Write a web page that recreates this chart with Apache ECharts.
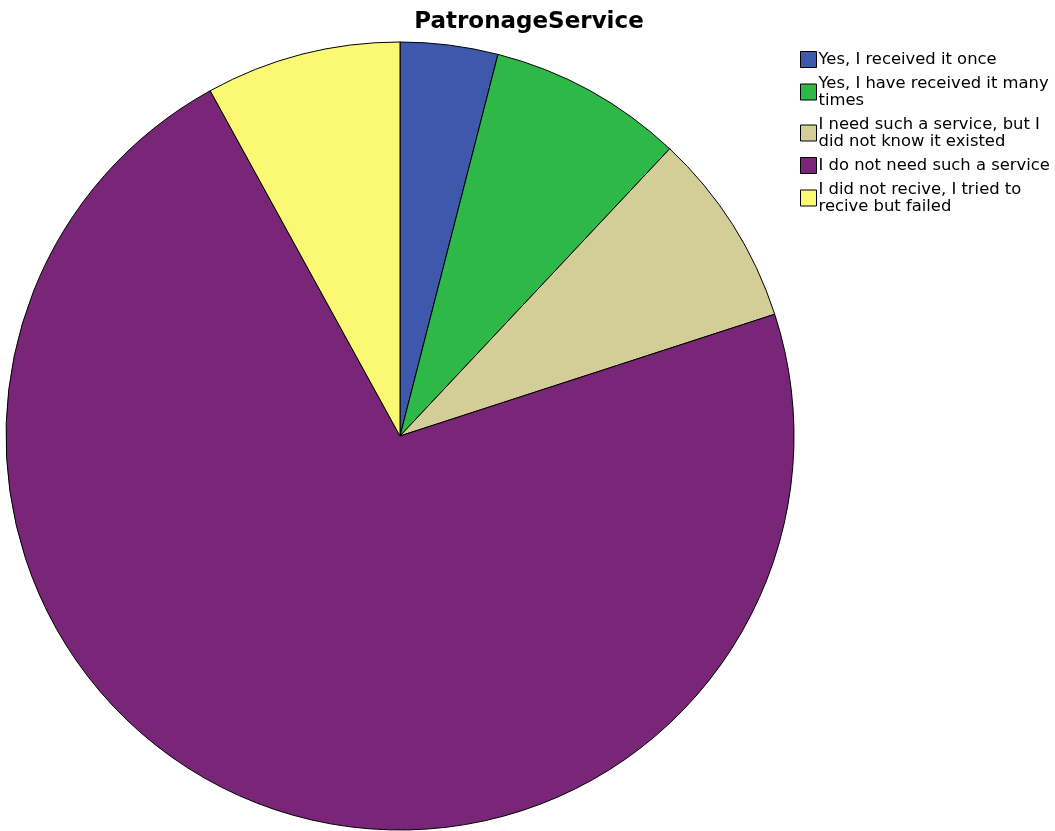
<!DOCTYPE html>
<html>
<head>
<meta charset="utf-8">
<script src="https://cdn.jsdelivr.net/npm/echarts@6/dist/echarts.min.js"></script>
<style>html,body{margin:0;padding:0;background:#fff}#c{width:1055px;height:831px}</style>
</head>
<body>
<div id="c"></div>
<script>
const categories = [
  "Yes, I received it once",
  "Yes, I have received it many times",
  "I need such a service, but I did not know it existed",
  "I do not need such a service",
  "I did not recive, I tried to recive but failed"
];
const legendLabels = [
  "Yes, I received it once",
  "Yes, I have received it many\ntimes",
  "I need such a service, but I\ndid not know it existed",
  "I do not need such a service",
  "I did not recive, I tried to\nrecive but failed"
];
const counts = [1, 2, 2, 18, 2];
const colors = ["#3E58AC", "#2EB848", "#D3CE97", "#7A2678", "#FBF873"];

const chart = echarts.init(document.getElementById('c'), null, {renderer: 'canvas'});
chart.setOption({
  animation: false,
  backgroundColor: '#ffffff',
  title: {
    text: 'PatronageService',
    left: 524, top: 6, textAlign: 'center',
    textStyle: {fontFamily: 'DejaVu Sans', fontWeight: 'bold', fontSize: 23, color: '#000'}
  },
  legend: {
    orient: 'vertical', left: 795, top: 43,
    itemWidth: 16, itemHeight: 16, itemGap: 1,
    icon: 'rect',
    itemStyle: {borderColor: '#000', borderWidth: 1},
    textStyle: {fontFamily: 'DejaVu Sans', fontSize: 16.4, color: '#000', lineHeight: 17, padding: [6,0,0,-3]},
    formatter: function (name) { return legendLabels[categories.indexOf(name)]; },
    data: categories
  },
  series: [{
    type: 'pie',
    center: [400, 436],
    radius: 394,
    startAngle: 90,
    clockwise: true,
    label: {show: false},
    labelLine: {show: false},
    emphasis: {disabled: true},
    itemStyle: {borderColor: '#000', borderWidth: 1},
    data: categories.map((c, i) => ({name: c, value: counts[i], itemStyle: {color: colors[i]}}))
  }]
});
</script>
</body>
</html>
